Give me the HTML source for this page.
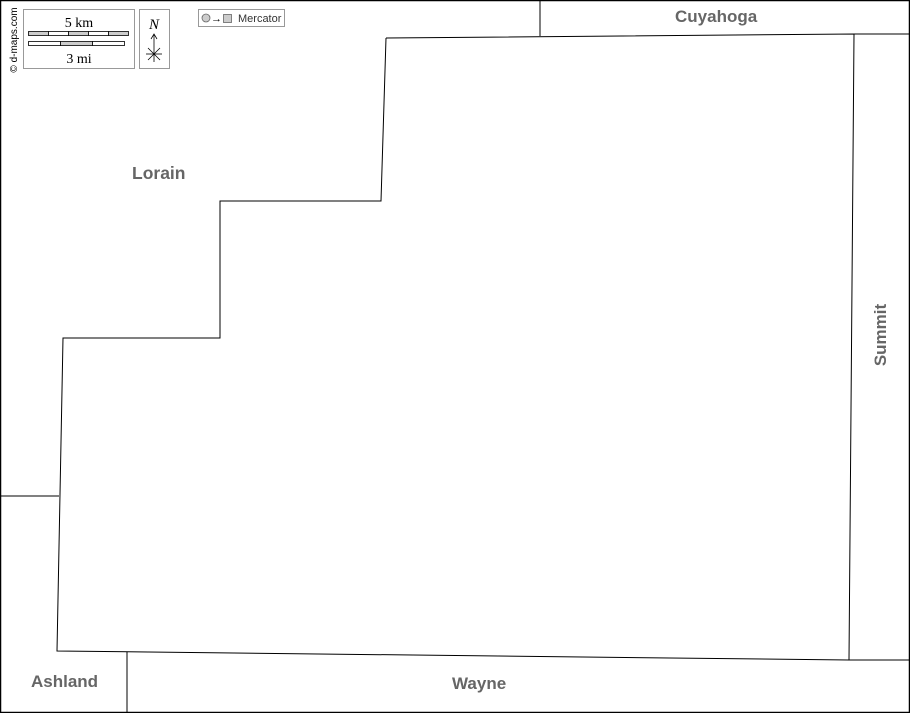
<!DOCTYPE html>
<html><head><meta charset="utf-8"><style>
html,body{margin:0;padding:0;background:#fff;}
svg{display:block;}
</style></head><body>
<svg width="910" height="713" viewBox="0 0 910 713" xmlns="http://www.w3.org/2000/svg" font-family="Liberation Sans, sans-serif">
<rect x="0.5" y="0.5" width="909" height="712" fill="#fff" stroke="#000" stroke-width="1.5"/>
<g fill="none" stroke="#000" stroke-width="1">
<polyline points="386,38 854,34 849,660 57,651 63,338 220,338 220,201 381,201 386,38"/>
<line x1="540" y1="0" x2="540" y2="36"/>
<line x1="854" y1="34" x2="910" y2="34"/>
<line x1="849" y1="660" x2="910" y2="660"/>
<line x1="0" y1="496" x2="59" y2="496"/>
<line x1="127" y1="652" x2="127" y2="713"/>
</g>
<g fill="#666" font-weight="bold" font-size="17">
<text x="132" y="179" font-size="17.5">Lorain</text>
<text x="675" y="22">Cuyahoga</text>
<text x="31" y="687">Ashland</text>
<text x="452" y="689">Wayne</text>
<text transform="translate(886,335) rotate(-90)" text-anchor="middle">Summit</text>
</g>
<text transform="translate(17,40) rotate(-90)" text-anchor="middle" font-size="10" fill="#000">© d-maps.com</text>
<rect x="23.5" y="9.5" width="111" height="59" fill="#fff" stroke="#999"/>
<text x="79" y="27" text-anchor="middle" style="font-family:'Liberation Serif',serif;font-size:14px">5 km</text>
<text x="79" y="63" text-anchor="middle" style="font-family:'Liberation Serif',serif;font-size:14px">3 mi</text>
<g stroke="#000" stroke-width="0.8">
<rect x="28.5" y="31.5" width="20" height="4" fill="#ccc"/><rect x="48.5" y="31.5" width="20" height="4" fill="#fff"/>
<rect x="68.5" y="31.5" width="20" height="4" fill="#ccc"/><rect x="88.5" y="31.5" width="20" height="4" fill="#fff"/>
<rect x="108.5" y="31.5" width="20" height="4" fill="#ccc"/>
<rect x="28.5" y="41.5" width="32" height="4" fill="#fff"/><rect x="60.5" y="41.5" width="32" height="4" fill="#ccc"/>
<rect x="92.5" y="41.5" width="32" height="4" fill="#fff"/>
</g>
<rect x="139.5" y="9.5" width="30" height="59" fill="#fff" stroke="#999"/>
<text x="154" y="29" text-anchor="middle" style="font-family:'Liberation Serif',serif;font-style:italic;font-size:15px">N</text>
<g stroke="#000" stroke-width="0.8" fill="none">
<line x1="154" y1="35" x2="154" y2="62"/><polyline points="151,39 154,34 157,39"/>
<line x1="146" y1="54" x2="162" y2="54"/><line x1="148" y1="48" x2="160" y2="60"/><line x1="160" y1="48" x2="148" y2="60"/>
</g>
<rect x="198.5" y="9.5" width="86" height="17" fill="#fff" stroke="#999"/>
<circle cx="206" cy="18" r="4" fill="#ccc" stroke="#666" stroke-width="0.8"/>
<text x="211" y="22" font-size="11">→</text>
<rect x="223.5" y="14.5" width="8" height="8" fill="#ccc" stroke="#666" stroke-width="0.8"/>
<text x="238" y="22" font-size="11" fill="#333">Mercator</text>
</svg>
</body></html>
